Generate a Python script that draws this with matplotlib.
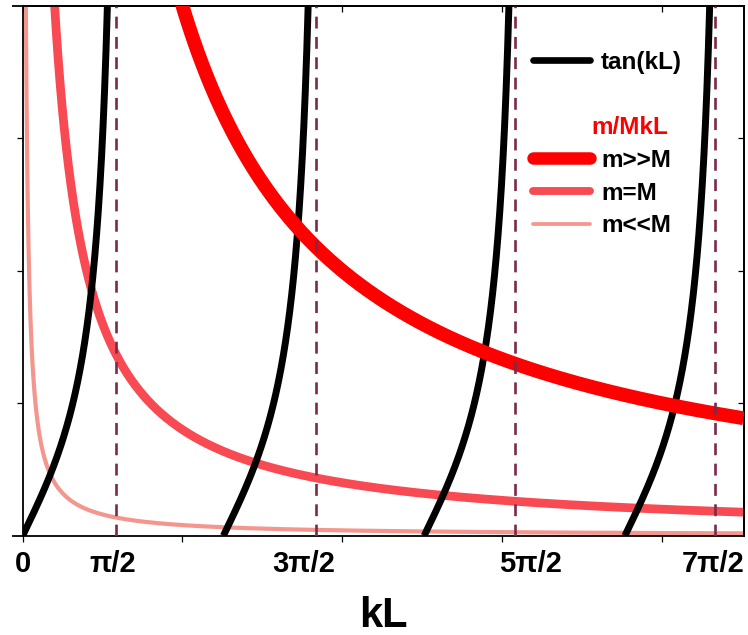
import numpy as np
import matplotlib
matplotlib.use('Agg')
import matplotlib.pyplot as plt
import matplotlib.transforms as mtransforms
from matplotlib.lines import Line2D

plt.rcParams['font.family'] = ['Liberation Sans', 'DejaVu Sans']
plt.rcParams['font.weight'] = 'bold'

# axis ranges, kL in rad
kl_max = 11.28
y_max = 4.0
kl_ticks = [0, 2.5, 5, 7.5, 10]
y_ticks = [1, 2, 3]

# tan(kL) branches, branch n starts at n*pi
tan_branches = [0, 1, 2, 3]

# m/(M kL) curves
mass_ratio = [10, 2, 0.2]
ratio_labels = ['m>>M', 'm=M', 'm<<M']
ratio_colors = ['#ff0000', '#f84a52', '#f4968e']
ratio_widths = [10, 6.3, 3]

# dashed guide lines and the hand-placed labels under the axis
dash_pos = [1.455, 4.584, 7.702, 10.835]
kl_labels = ['0', 'π/2', '3π/2', '5π/2', '7π/2']
kl_label_pos = [0, 1.41, 4.40, 7.95, 10.81]

fig = plt.figure(figsize=(7.48, 6.35), dpi=100)
ax = fig.add_axes([0.0303, 0.1564, 0.9637, 0.8346])

kl = np.linspace(0.005, kl_max, 3000)
zorders = [4, 2, 2]
for ratio, c, w, z in zip(mass_ratio, ratio_colors, ratio_widths, zorders):
    ax.plot(kl, ratio / kl, color=c, lw=w, zorder=z, solid_capstyle='butt')

for n in tan_branches:
    x = np.linspace(n * np.pi, n * np.pi + 1.45, 500)
    ax.plot(x, np.tan(x), color='black', lw=5, zorder=3, solid_capstyle='butt')

for p in dash_pos:
    ax.axvline(p, color='#7b2a48', lw=1.9, ls=(0, (4.5, 3.2)), zorder=5)

ax.set_xlim(0, kl_max)
ax.set_ylim(0, y_max)
ax.set_xticks(kl_ticks)
ax.set_yticks(y_ticks)
ax.set_xticklabels([])
ax.set_yticklabels([])
ax.tick_params(direction='out', length=4.3, width=0.9)
for s in ax.spines.values():
    s.set_linewidth(1.3)

# top and bottom frame lines run a little past the left axis
for yy in (0, 1):
    ax.plot([-0.015, 0], [yy, yy], transform=ax.transAxes, color='black',
            lw=1.3, clip_on=False, solid_capstyle='butt')

top = ax.secondary_xaxis('top')
top.set_xticks(kl_ticks)
top.set_xticklabels([])
top.tick_params(direction='in', length=4.3, width=0.9)
top.spines['top'].set_linewidth(1.3)
right = ax.secondary_yaxis('right')
right.set_yticks(y_ticks)
right.set_yticklabels([])
right.tick_params(direction='in', length=4.3, width=0.9)
right.spines['right'].set_linewidth(1.3)

for lab, pos in zip(kl_labels, kl_label_pos):
    ax.annotate(lab, xy=(pos, 0), xycoords=('data', 'axes fraction'),
                xytext=(0, -20.3), textcoords='offset points',
                ha='center', va='center', fontsize=21, fontweight='bold')
ax.text(0.5, -0.152, 'kL', transform=ax.transAxes, ha='center', va='center',
        fontsize=30, fontweight='bold')

handles = [Line2D([], [], color='black', lw=4.8, solid_capstyle='round'),
           Line2D([], [], color='none'),
           Line2D([], [], color='none')]
labels = ['tan(kL)', ' ', 'm/MkL']
for lbl, c, w in zip(ratio_labels, ratio_colors, ratio_widths):
    handles.append(Line2D([], [], color=c, lw=w * 0.9, solid_capstyle='round'))
    labels.append(lbl)
leg = ax.legend(handles, labels, loc='upper left', bbox_to_anchor=(0.708, 0.915),
                frameon=False, fontsize=17.5, handlelength=2.35, handletextpad=0.45,
                labelspacing=0.40, borderpad=0, borderaxespad=0)
head = leg.get_texts()[2]
head.set_color('#ff0000')
head.set_transform(head.get_transform() + mtransforms.Affine2D().translate(-10, 0))
leg.set_zorder(6)

fig.savefig('out.png', dpi=100)
